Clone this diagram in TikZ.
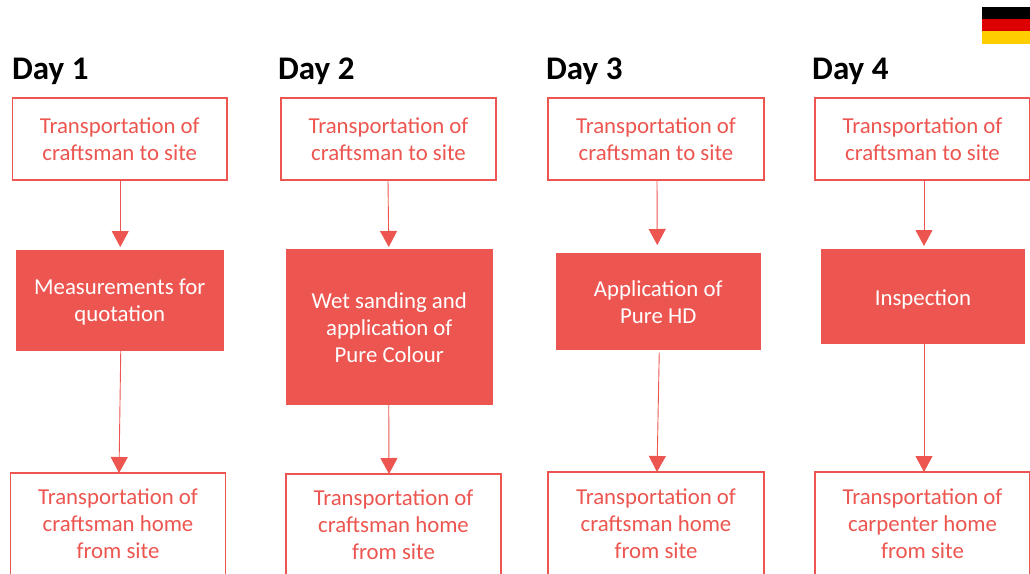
\documentclass[tikz,border=0pt]{standalone}
\usepackage{fontspec}
\setmainfont{Carlito}
\usetikzlibrary{arrows.meta}
\definecolor{cr}{HTML}{ED5650}
\definecolor{flagred}{HTML}{DD0000}
\definecolor{flaggold}{HTML}{FFCE00}
\tikzset{
 obox/.style={draw=cr,line width=1.8pt,fill=white,text=cr,align=center,inner sep=0pt,outer sep=0pt,font=\fontsize{22.8}{27}\selectfont},
 fbox/.style={fill=cr,text=white,align=center,inner sep=0pt,outer sep=0pt,font=\fontsize{22.8}{27}\selectfont},
 daylab/.style={anchor=west,inner sep=0pt,font=\fontsize{33}{36}\selectfont\bfseries},
 conn/.style={draw=cr,line width=0.9pt,-{Triangle[length=16pt,width=17pt]}}
}
\newcommand{\bx}[7]{\node[#1,minimum width=#4pt-#2pt,minimum height=#5pt-#3pt] (#6) at ({(#2+#4)/2},{(#3+#5)/2}) {#7};}
\newcommand{\tx}[2]{\raisebox{#1}[\height][\depth]{\begin{tabular}{@{}c@{}}#2\end{tabular}}}
\begin{document}
\begin{tikzpicture}[x=1pt,y=-1pt]
\useasboundingbox (0,0) rectangle (1030,573);
\fill[black] (982,7) rectangle (1030,19);
\fill[flagred] (982,19) rectangle (1030,31);
\fill[flaggold] (982,31) rectangle (1030,44);
\node[daylab] (d1) at (12,71) {Day 1};
\node[daylab] (d2) at (278,71) {Day 2};
\node[daylab] (d3) at (546,71) {Day 3};
\node[daylab] (d4) at (812,71) {Day 4};
\bx{obox}{12.5}{98}{227}{180}{t1}{\tx{-3pt}{Transportation of\\craftsman to site}}
\bx{obox}{281}{98}{496}{180}{t2}{\tx{-3pt}{Transportation of\\craftsman to site}}
\bx{obox}{548}{98}{764}{180}{t3}{\tx{-3pt}{Transportation of\\craftsman to site}}
\bx{obox}{815}{98}{1030}{180}{t4}{\tx{-3pt}{Transportation of\\craftsman to site}}
\bx{fbox}{16}{250}{223.5}{350.5}{m1}{\tx{-2pt}{Measurements for\\quotation}}
\bx{fbox}{286}{249}{492.5}{404.5}{m2}{\tx{-3pt}{Wet sanding and\\application of\\Pure Colour}}
\bx{fbox}{556}{253}{760.5}{349.5}{m3}{\tx{-3pt}{Application of\\Pure HD}}
\bx{fbox}{821}{249}{1025}{343.5}{m4}{\raisebox{-3pt}[\height][\depth]{Inspection}}
\bx{obox}{10.5}{473}{225.5}{576}{b1}{\tx{-2pt}{Transportation of\\craftsman home\\from site}}
\bx{obox}{286}{474}{501}{576}{b2}{\tx{-2pt}{Transportation of\\craftsman home\\from site}}
\bx{obox}{548}{472}{764}{576}{b3}{Transportation of\\craftsman home\\from site}
\bx{obox}{815}{472}{1030}{576}{b4}{Transportation of\\carpenter home\\from site}
\draw[conn] ([xshift=0.5pt]t1.south) -- ([xshift=0.5pt,yshift=3pt]m1.north);
\draw[conn] ([xshift=-0.5pt]t2.south) -- ([xshift=-0.5pt,yshift=2pt]m2.north);
\draw[conn] ([xshift=1pt]t3.south) -- ([xshift=-1pt,yshift=8pt]m3.north);
\draw[conn] ([xshift=1.5pt]t4.south) -- ([xshift=1pt,yshift=3pt]m4.north);
\draw[conn] ([xshift=1pt]m1.south) -- ([xshift=1pt]b1.north);
\draw[conn] ([xshift=-0.5pt]m2.south) -- ([xshift=-4.5pt]b2.north);
\draw[conn] ([xshift=1pt,yshift=-3pt]m3.south) -- ([xshift=1pt]b3.north);
\draw[conn] ([xshift=1pt]m4.south) -- ([xshift=1.5pt]b4.north);
\end{tikzpicture}
\end{document}
